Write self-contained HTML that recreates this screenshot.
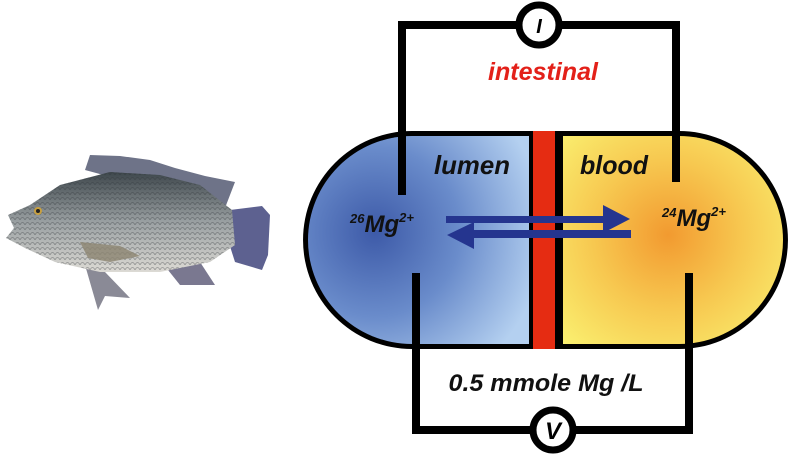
<!DOCTYPE html>
<html><head><meta charset="utf-8"><style>
html,body{margin:0;padding:0;background:#fff;width:790px;height:455px;overflow:hidden}
text{font-family:"Liberation Sans",Arial,sans-serif;font-weight:bold;font-style:italic}
</style></head><body>
<svg width="790" height="455" viewBox="0 0 790 455" xmlns="http://www.w3.org/2000/svg">
<defs>
<radialGradient id="bl" cx="375" cy="232" r="170" gradientUnits="userSpaceOnUse">
<stop offset="0" stop-color="#3d5aa8"/><stop offset="0.5" stop-color="#6a8ccb"/><stop offset="1" stop-color="#b4d0f0"/></radialGradient>
<radialGradient id="ye" cx="668" cy="235" r="150" gradientUnits="userSpaceOnUse">
<stop offset="0" stop-color="#f29a30"/><stop offset="0.5" stop-color="#f7c850"/><stop offset="1" stop-color="#faf070"/></radialGradient>
<linearGradient id="fish" x1="0" y1="0" x2="0" y2="1">
<stop offset="0" stop-color="#3e474c"/><stop offset="0.5" stop-color="#9aa0a2"/><stop offset="1" stop-color="#dcdad4"/></linearGradient>
<pattern id="sc" width="5" height="5" patternUnits="userSpaceOnUse"><path d="M0 5 Q2.5 0 5 5" fill="none" stroke="#2a3034" stroke-width="0.7" opacity="0.4"/></pattern>
</defs>
<g>
<path d="M85 170 L90 155 L120 156 L150 160 L175 168 L205 176 L235 182 L225 208 Z" fill="#6e7388"/>
<path d="M230 210 L262 206 L270 215 L268 255 L262 270 L235 262 L228 240 Z" fill="#5d6190"/>
<path d="M160 260 L200 262 L215 285 L180 285 Z" fill="#7a7890"/>
<path d="M85 265 L105 272 L130 298 L105 296 L98 310 Z" fill="#8a8a96"/>
<path d="M8 215 L30 205 L60 185 L110 172 L160 175 L200 185 L232 210 L235 245 L210 262 L160 272 L100 272 L55 262 L25 248 L6 238 L14 228 Z" fill="url(#fish)"/>
<path d="M8 215 L30 205 L60 185 L110 172 L160 175 L200 185 L232 210 L235 245 L210 262 L160 272 L100 272 L55 262 L25 248 L6 238 L14 228 Z" fill="url(#sc)"/>
<path d="M80 242 L120 246 L140 256 L110 262 L88 258 Z" fill="#8c8470" opacity="0.8"/>
<circle cx="38" cy="211" r="4" fill="#c8a040"/><circle cx="38" cy="211" r="2" fill="#222"/>
</g>
<path d="M412 131 L679 131 A109 109 0 0 1 679 349 L412 349 A109 109 0 0 1 412 131 Z" fill="#000"/>
<path d="M412 136 L529 136 L529 344 L412 344 A104 104 0 0 1 412 136 Z" fill="url(#bl)"/>
<path d="M563 136 L679 136 A104 104 0 0 1 679 344 L563 344 Z" fill="url(#ye)"/>
<rect x="533" y="131" width="22" height="218" fill="#e52c12"/>
<g fill="none" stroke="#000" stroke-width="8">
<path d="M402 195 L402 25 L676 25 L676 182"/>
<path d="M416 273 L416 430 L689 430 L689 273"/>
</g>
<circle cx="539" cy="25" r="20" fill="#fff" stroke="#000" stroke-width="7"/>
<circle cx="553" cy="430" r="20" fill="#fff" stroke="#000" stroke-width="7"/>
<text x="539" y="33" font-size="20" text-anchor="middle">I</text>
<text x="553" y="439" font-size="24" text-anchor="middle">V</text>
<g fill="#25358f">
<path d="M446 216 L603 216 L603 205 L630 219 L603 233 L603 223 L446 223 Z"/>
<path d="M631 230 L474 230 L474 222 L447 235 L474 249 L474 238 L631 238 Z"/>
</g>
<text x="543" y="80" font-size="25" fill="#e32019" text-anchor="middle" textLength="110" lengthAdjust="spacingAndGlyphs">intestinal</text>
<text x="472" y="174" font-size="26" fill="#111" text-anchor="middle" textLength="76" lengthAdjust="spacingAndGlyphs">lumen</text>
<text x="614" y="174" font-size="26" fill="#111" text-anchor="middle" textLength="68" lengthAdjust="spacingAndGlyphs">blood</text>
<text x="350" y="232" font-size="24" fill="#111"><tspan font-size="13" dy="-9">26</tspan><tspan dy="9">Mg</tspan><tspan font-size="13" dy="-10">2+</tspan></text>
<text x="662" y="226" font-size="24" fill="#111"><tspan font-size="13" dy="-9">24</tspan><tspan dy="9">Mg</tspan><tspan font-size="13" dy="-10">2+</tspan></text>
<text x="546" y="391" font-size="24" fill="#111" text-anchor="middle" textLength="195" lengthAdjust="spacingAndGlyphs">0.5 mmole Mg /L</text>
</svg>
</body></html>
